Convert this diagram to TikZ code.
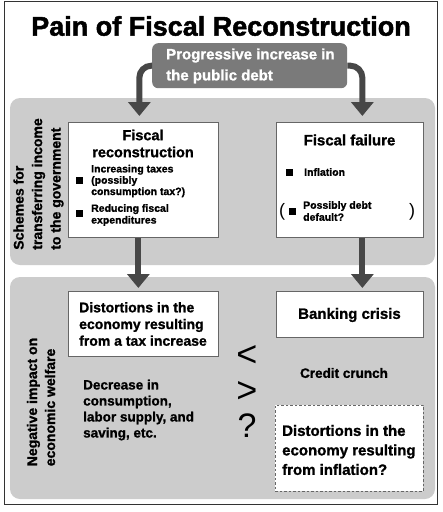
\documentclass[tikz,border=0pt]{standalone}
\usepackage{fontspec}
\setmainfont{Liberation Sans}[BoldFeatures={FakeBold=1.2}]
\newfontface\titlefont{Liberation Sans Bold}[FakeBold=1.8]
\usetikzlibrary{arrows.meta}
\tikzset{
  region/.style={fill=gray!40, rounded corners=10pt},
  box/.style={draw=black!60, line width=0.7pt, fill=white, inner sep=0pt},
  dbox/.style={draw=black!60, line width=0.7pt, fill=white, dash pattern=on 2.5pt off 2pt, inner sep=0pt},
  bul/.style={fill=black, minimum size=7pt, inner sep=0pt},
  bigarrow/.style={line width=6pt, draw=black!72, -{Triangle[width=22pt,length=14pt]}},
  progbox/.style={fill=black!52, rounded corners=6pt, text=white, inner sep=0pt},
  txt/.style={inner sep=0pt},
}
\begin{document}
\begin{tikzpicture}[x=1pt,y=-1pt]
\useasboundingbox (0,0) rectangle (443,512);
\fill[white] (0,0) rectangle (443,512);
\draw[black!80, line width=0.8pt] (4,1) rectangle (437,504);
% shaded regions
\fill[region] (10,98) rectangle (435,265);
\fill[region] (10,277) rectangle (435,499);
% title
\node[txt, font=\titlefont\fontsize{27}{30}\selectfont] (title) at (221,26) {Pain of Fiscal Reconstruction};
% progressive box
\node[progbox, minimum width=195pt, minimum height=45pt, anchor=north west] (prog) at (152,43) {};
\node[txt, anchor=west, align=left, text=white, font=\bfseries\fontsize{15}{21}\selectfont] (progt) at (166,66) {Progressive increase in\\the public debt};
% upper boxes
\node[box, minimum width=150pt, minimum height=115pt, anchor=north west] (fr) at (68,122) {};
\node[box, minimum width=147pt, minimum height=115pt, anchor=north west] (ff) at (276,122) {};
\node[txt, align=center, font=\bfseries\fontsize{14.5}{17}\selectfont] (frh) at (143,143.5) {Fiscal\\reconstruction};
\node[bul] (b1) at (79,180) {};
\node[bul] (b2) at (79,213) {};
\node[txt, anchor=west, align=left, font=\bfseries\fontsize{10.5}{11.3}\selectfont] (t1) at (91,181) {Increasing taxes\\(possibly\\consumption tax?)};
\node[txt, anchor=west, align=left, font=\bfseries\fontsize{10.5}{11.8}\selectfont] (t2) at (91,215) {Reducing fiscal\\expenditures};
\node[txt, font=\bfseries\fontsize{15}{17}\selectfont] (ffh) at (349.5,140) {Fiscal failure};
\node[bul] (b3) at (289,172) {};
\node[txt, anchor=west, font=\bfseries\fontsize{10.5}{12}\selectfont] (t3) at (304,172) {Inflation};
\node[txt, font=\fontsize{18}{18}\selectfont] (lp) at (282,212) {(};
\node[bul] (b4) at (292,211) {};
\node[txt, anchor=west, align=left, font=\bfseries\fontsize{10.5}{12}\selectfont] (t4) at (303,211) {Possibly debt\\default?};
\node[txt, font=\fontsize{18}{18}\selectfont] (rp) at (412,212) {)};
% lower boxes
\node[box, minimum width=150pt, minimum height=65pt, anchor=north west] (dist) at (68,291) {};
\node[txt, anchor=west, align=left, font=\bfseries\fontsize{14}{16.7}\selectfont] (distt) at (79,324) {Distortions in the\\economy resulting\\from a tax increase};
\node[box, minimum width=147pt, minimum height=46pt, anchor=north west] (bank) at (276,291) {};
\node[txt, font=\bfseries\fontsize{15}{18}\selectfont] (bankt) at (349.5,315) {Banking crisis};
\node[dbox, minimum width=148pt, minimum height=86pt, anchor=north west] (infl) at (275,405) {};
\node[txt, anchor=west, align=left, font=\bfseries\fontsize{15}{19.5}\selectfont] (inflt) at (282,450) {Distortions in the\\economy resulting\\from inflation?};
\node[txt, anchor=west, align=left, font=\bfseries\fontsize{13.5}{16}\selectfont] (dec) at (83,410) {Decrease in\\consumption,\\labor supply, and\\saving, etc.};
\node[txt, font=\bfseries\fontsize{13.5}{16}\selectfont] (cc) at (344,373) {Credit crunch};
\node[txt, font=\fontsize{36}{36}\selectfont] (lt) at (247,356) {<};
\node[txt, font=\fontsize{36}{36}\selectfont] (gt) at (247,392) {>};
\node[txt, font=\fontsize{34}{34}\selectfont] (qm) at (247,426) {?};
% side labels
\node[txt, rotate=90, align=left, font=\bfseries\fontsize{14}{18.5}\selectfont] (side1) at (38.5,184) {Schemes for\\transferring income\\to the government};
\node[txt, rotate=90, align=left, font=\bfseries\fontsize{14}{18}\selectfont] (side2) at (41,402) {Negative impact on\\economic welfare};
% arrows
\draw[bigarrow, rounded corners=12pt, shorten >=6pt] (prog.west) -| ([xshift=-4pt]fr.north);
\draw[bigarrow, rounded corners=12pt, shorten >=6pt] (prog.east) -| ([xshift=12.5pt]ff.north);
\draw[bigarrow, shorten >=3pt] ([xshift=-5pt]fr.south) -- ([xshift=-5pt]dist.north);
\draw[bigarrow, shorten >=3pt] ([xshift=12.5pt]ff.south) -- ([xshift=12.5pt]bank.north);
\end{tikzpicture}
\end{document}
